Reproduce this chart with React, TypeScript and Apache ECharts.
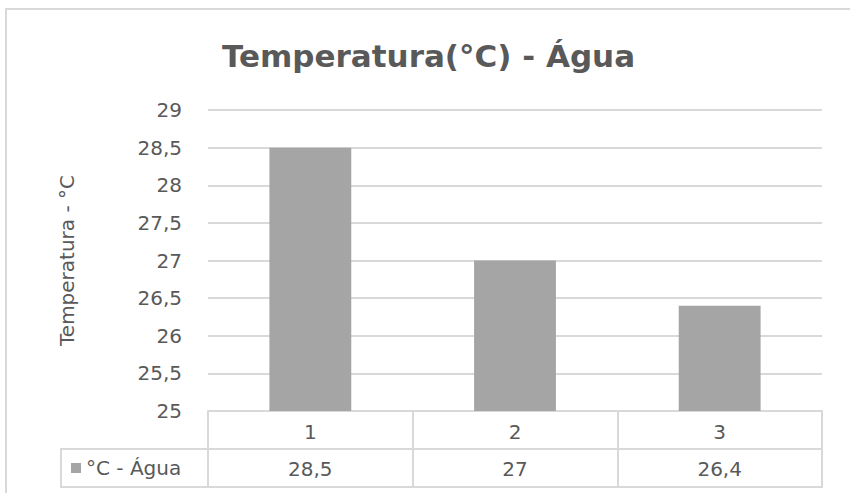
import React, { useEffect, useRef } from "react";
import * as echarts from "echarts";

const categories = ["1", "2", "3"];
const values = [28.5, 27, 26.4];
const seriesName = "°C - Água";
const titleText = "Temperatura(°C) - Água";
const yAxisName = "Temperatura - °C";

const FONT = "DejaVu Sans";
const TXT = "#595959";
const LINE = "#d9d9d9";
const fmt = (v: number | string) => String(v).replace(".", ",");

export default function App() {
  const ref = useRef<HTMLDivElement>(null);
  useEffect(() => {
    if (!ref.current) return;
    const chart = echarts.init(ref.current, undefined, { renderer: "svg" });
    chart.setOption({
      animation: false,
      backgroundColor: "#ffffff",
      textStyle: { fontFamily: FONT },
      title: {
        text: titleText,
        left: 217,
        top: 35,
        textStyle: { fontFamily: FONT, fontSize: 31, fontWeight: "bold", color: TXT },
      },
      legend: {
        left: 71,
        top: 458,
        padding: 0,
        icon: "rect",
        itemWidth: 10,
        itemHeight: 10,
        itemGap: 4,
        textStyle: { fontFamily: FONT, fontSize: 20, color: TXT },
        data: [seriesName],
      },
      grid: { left: 208, right: 28, top: 110, bottom: 82, containLabel: false },
      xAxis: [
        {
          type: "category",
          data: categories,
          position: "bottom",
          axisLine: { show: true, lineStyle: { color: LINE, width: 2 } },
          axisTick: { show: true, interval: 0, length: 77, lineStyle: { color: LINE, width: 2 } },
          axisLabel: { margin: 11, fontSize: 20, color: TXT, fontFamily: FONT },
          splitLine: { show: false },
        },
        {
          type: "category",
          data: values.map(fmt),
          position: "bottom",
          offset: 38,
          axisLine: { show: true, lineStyle: { color: LINE, width: 2 } },
          axisTick: { show: false },
          axisLabel: { margin: 10, fontSize: 20, color: TXT, fontFamily: FONT },
          splitLine: { show: false },
        },
      ],
      yAxis: {
        type: "value",
        min: 25,
        max: 29,
        interval: 0.5,
        name: yAxisName,
        nameLocation: "middle",
        nameRotate: 90,
        nameGap: 131,
        nameTextStyle: { fontSize: 20, color: TXT, fontFamily: FONT },
        axisLine: { show: false },
        axisTick: { show: false },
        axisLabel: { margin: 26, fontSize: 20, color: TXT, fontFamily: FONT, formatter: (v: number) => fmt(v) },
        splitLine: { lineStyle: { color: LINE, width: 2 } },
      },
      series: [
        {
          name: seriesName,
          type: "bar",
          data: values,
          barWidth: "40%",
          itemStyle: { color: "#a5a5a5" },
        },
      ],
      graphic: [
        {
          type: "rect",
          shape: { x: 6, y: 9, width: 900, height: 520 },
          style: { fill: "none", stroke: LINE, lineWidth: 2 },
          silent: true,
        },
        {
          type: "polyline",
          shape: { points: [[208, 449], [61, 449], [61, 487], [822, 487]] },
          style: { fill: "none", stroke: LINE, lineWidth: 2 },
          silent: true,
        },
      ],
    });
    return () => chart.dispose();
  }, []);
  return (
    <div
      ref={ref}
      style={{ position: "fixed", left: 0, top: 0, width: 850, height: 493 }}
    />
  );
}
